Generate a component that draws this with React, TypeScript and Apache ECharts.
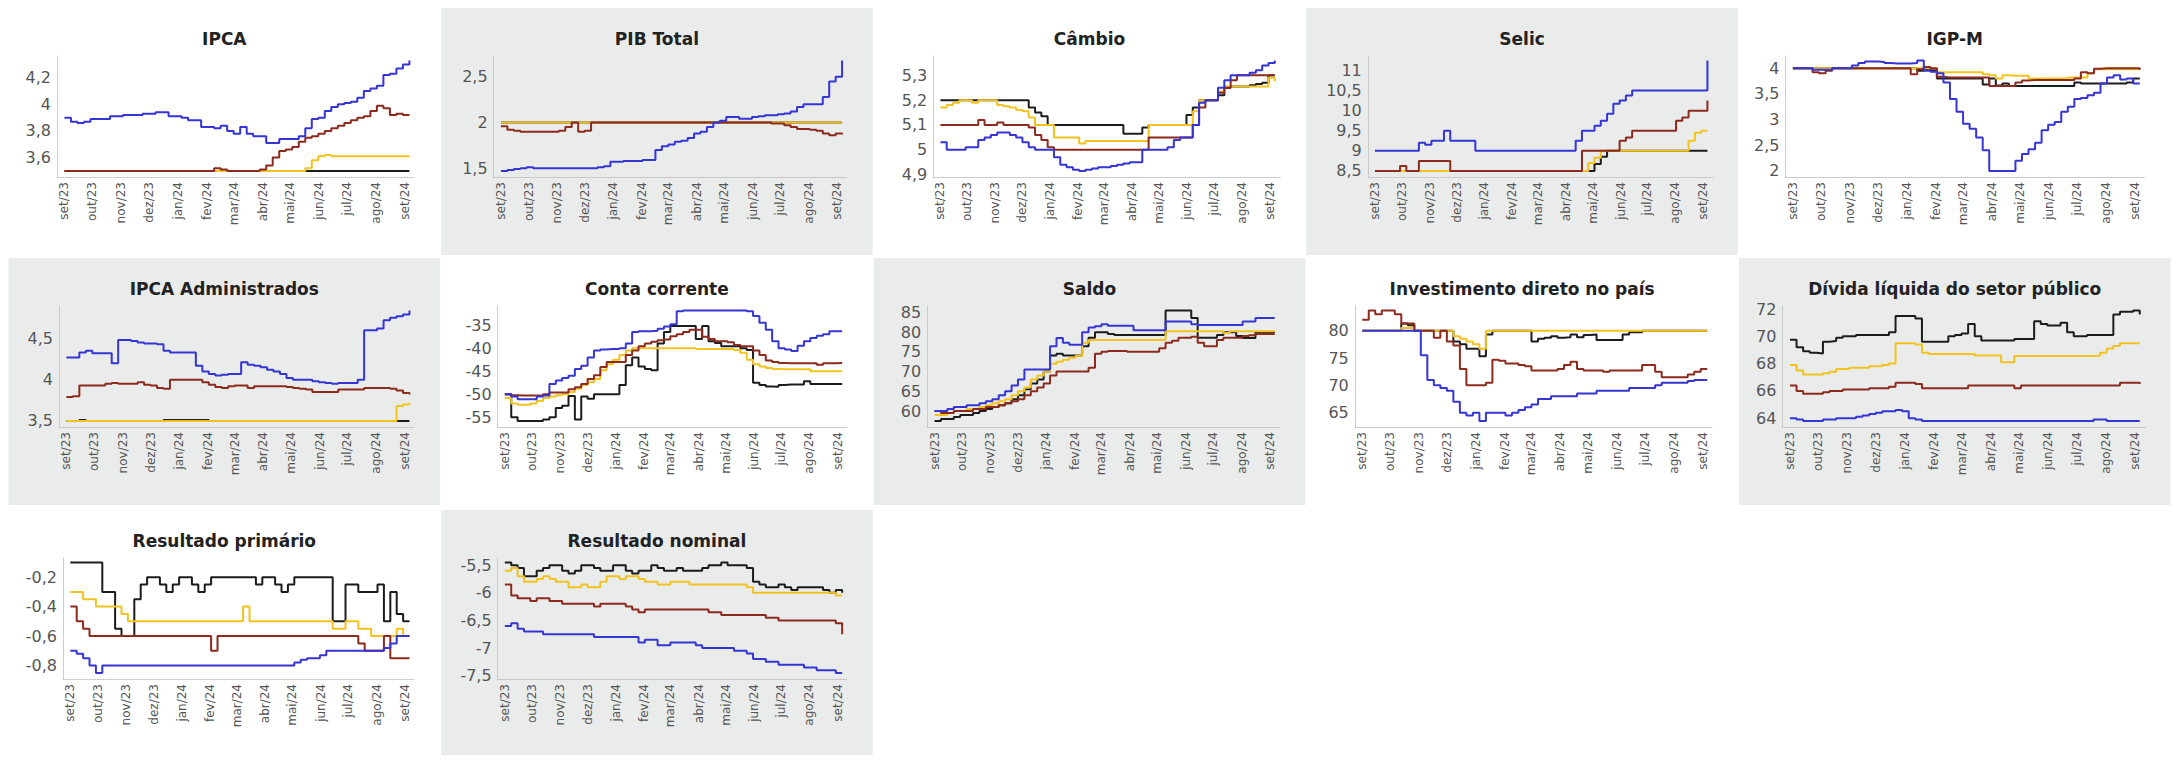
import React, { useEffect, useRef } from "react";
import * as echarts from "echarts";

// ---------- data ----------
const weekDates = [
  "2023-09-01","2023-09-08","2023-09-15","2023-09-22","2023-09-29","2023-10-06","2023-10-13","2023-10-20","2023-10-27","2023-11-03",
  "2023-11-10","2023-11-17","2023-11-24","2023-12-01","2023-12-08","2023-12-15","2023-12-22","2023-12-29","2024-01-05","2024-01-12",
  "2024-01-19","2024-01-26","2024-02-02","2024-02-09","2024-02-16","2024-02-23","2024-03-01","2024-03-08","2024-03-15","2024-03-22",
  "2024-03-29","2024-04-05","2024-04-12","2024-04-19","2024-04-26","2024-05-03","2024-05-10","2024-05-17","2024-05-24","2024-05-31",
  "2024-06-07","2024-06-14","2024-06-21","2024-06-28","2024-07-05","2024-07-12","2024-07-19","2024-07-26","2024-08-02","2024-08-09",
  "2024-08-16","2024-08-23","2024-08-30","2024-09-06",
];
const monthTickDates = [
  "2023-09-01","2023-10-01","2023-11-01","2023-12-01","2024-01-01","2024-02-01","2024-03-01",
  "2024-04-01","2024-05-01","2024-06-01","2024-07-01","2024-08-01","2024-09-01",
];
const monthTickLabels = ["set/23","out/23","nov/23","dez/23","jan/24","fev/24","mar/24","abr/24","mai/24","jun/24","jul/24","ago/24","set/24"];
const axisStartDate = "2023-08-24";
const axisEndDate = "2024-09-12";

const seriesNames = ["2024", "2025", "2026", "2027"];
const seriesColors = ["#3535d4", "#8c2a1e", "#f2c21e", "#1c1c1c"];

const panelTitles = [
  "IPCA","PIB Total","Câmbio","Selic","IGP-M",
  "IPCA Administrados","Conta corrente","Saldo","Investimento direto no país","Dívida líquida do setor público",
  "Resultado primário","Resultado nominal",
];

const ipcaTicks = [3.6, 3.8, 4, 4.2];
const pibTicks = [1.5, 2, 2.5];
const cambioTicks = [4.9, 5, 5.1, 5.2, 5.3];
const selicTicks = [8.5, 9, 9.5, 10, 10.5, 11];
const igpmTicks = [2, 2.5, 3, 3.5, 4];
const admTicks = [3.5, 4, 4.5];
const contaTicks = [-55, -50, -45, -40, -35];
const saldoTicks = [60, 65, 70, 75, 80, 85];
const idpTicks = [65, 70, 75, 80];
const dlspTicks = [64, 66, 68, 70, 72];
const primTicks = [-0.8, -0.6, -0.4, -0.2];
const nomTicks = [-7.5, -7, -6.5, -6, -5.5];

// IPCA
const ipca24 = [3.90,3.87,3.86,3.87,3.89,3.89,3.89,3.91,3.91,3.92, 3.92,3.92,3.93,3.93,3.94,3.94,3.91,3.91,3.90,3.88, 3.88,3.83,3.83,3.82,3.84,3.80,3.78,3.83,3.78,3.76, 3.76,3.71,3.71,3.74,3.74,3.74,3.76,3.82,3.89,3.90, 3.95,3.98,4.00,4.01,4.02,4.05,4.10,4.12,4.14,4.22, 4.23,4.27,4.30,4.33];
const ipca25 = [3.5,3.5,3.5,3.5,3.5,3.5,3.5,3.5,3.5,3.5, 3.5,3.5,3.5,3.5,3.5,3.5,3.5,3.5,3.5,3.5, 3.5,3.5,3.5,3.52,3.51,3.5,3.5,3.5,3.5,3.5, 3.51,3.54,3.6,3.65,3.66,3.68,3.72,3.75,3.76,3.78, 3.8,3.82,3.84,3.86,3.88,3.9,3.91,3.95,3.99,3.97, 3.92,3.93,3.92,3.92];
const ipca26 = [3.5,3.5,3.5,3.5,3.5,3.5,3.5,3.5,3.5,3.5, 3.5,3.5,3.5,3.5,3.5,3.5,3.5,3.5,3.5,3.5, 3.5,3.5,3.5,3.5,3.5,3.5,3.5,3.5,3.5,3.5, 3.5,3.5,3.5,3.5,3.5,3.5,3.5,3.52,3.58,3.61, 3.62,3.61,3.61,3.61,3.61,3.61,3.61,3.61,3.61,3.61, 3.61,3.61,3.61,3.61];
const ipca27 = [3.5,3.5,3.5,3.5,3.5,3.5,3.5,3.5,3.5,3.5, 3.5,3.5,3.5,3.5,3.5,3.5,3.5,3.5,3.5,3.5, 3.5,3.5,3.5,3.5,3.5,3.5,3.5,3.5,3.5,3.5, 3.5,3.5,3.5,3.5,3.5,3.5,3.5,3.5,3.5,3.5, 3.5,3.5,3.5,3.5,3.5,3.5,3.5,3.5,3.5,3.5, 3.5,3.5,3.5,3.5];

// PIB Total
const pib24 = [1.47,1.48,1.49,1.5,1.51,1.5,1.5,1.5,1.5,1.5, 1.5,1.5,1.5,1.5,1.5,1.51,1.52,1.57,1.57,1.58, 1.58,1.58,1.59,1.59,1.7,1.74,1.76,1.79,1.8,1.83, 1.88,1.9,1.95,2,2.02,2.06,2.06,2.04,2.04,2.06, 2.07,2.08,2.08,2.09,2.1,2.12,2.17,2.2,2.2,2.2, 2.28,2.45,2.5,2.68];
const pib25 = [1.96,1.92,1.91,1.9,1.9,1.9,1.9,1.9,1.9,1.91, 1.95,2,1.9,1.91,2,2,2,2,2,2, 2,2,2,2,2,2,2,2,2,2, 2,2,2,2,2,2,2,2,2,2, 2,2,1.99,1.99,1.97,1.95,1.93,1.93,1.92,1.91, 1.88,1.86,1.88,1.87];
const pib26 = [2,2,2,2,2,2,2,2,2,2, 2,2,2,2,2,2,2,2,2,2, 2,2,2,2,2,2,2,2,2,2, 2,2,2,2,2,2,2,2,2,2, 2,2,2,2,2,2,2,2,2,2, 2,2,2,2];
const pib27 = [2,2,2,2,2,2,2,2,2,2, 2,2,2,2,2,2,2,2,2,2, 2,2,2,2,2,2,2,2,2,2, 2,2,2,2,2,2,2,2,2,2, 2,2,2,2,2,2,2,2,2,2, 2,2,2,2];

// Câmbio
const cam24 = [5.03,5,5,5,5.01,5.01,5.04,5.05,5.06,5.07, 5.07,5.06,5.05,5.03,5.01,5,5,5,4.97,4.94, 4.93,4.92,4.915,4.92,4.925,4.93,4.93,4.935,4.94,4.945, 4.95,4.95,5,5,5,5,5.01,5.04,5.05,5.05, 5.1,5.19,5.2,5.2,5.25,5.28,5.3,5.3,5.3,5.31, 5.32,5.34,5.35,5.36];
const cam25 = [5.1,5.1,5.1,5.1,5.1,5.1,5.12,5.1,5.1,5.11, 5.1,5.1,5.1,5.1,5.09,5.06,5.04,5.01,5,5, 5,5,5,5,5,5,5,5,5,5, 5,5,5,5.05,5.05,5.05,5.05,5.05,5.05,5.05, 5.1,5.17,5.2,5.2,5.23,5.25,5.28,5.3,5.3,5.3, 5.3,5.3,5.3,5.3];
const cam26 = [5.17,5.18,5.19,5.2,5.2,5.19,5.2,5.2,5.2,5.18, 5.175,5.17,5.16,5.155,5.13,5.1,5.1,5.1,5.05,5.05, 5.05,5.05,5.025,5.035,5.035,5.035,5.035,5.035,5.035,5.035, 5.035,5.035,5.035,5.1,5.1,5.1,5.1,5.1,5.1,5.1, 5.155,5.2,5.2,5.2,5.235,5.255,5.255,5.255,5.255,5.255, 5.255,5.255,5.29,5.275];
const cam27 = [5.2,5.2,5.2,5.2,5.2,5.2,5.2,5.2,5.2,5.2, 5.2,5.2,5.2,5.2,5.17,5.15,5.135,5.1,5.1,5.1, 5.1,5.1,5.1,5.1,5.1,5.1,5.1,5.1,5.1,5.065, 5.065,5.065,5.09,5.1,5.1,5.1,5.1,5.1,5.1,5.14, 5.17,5.2,5.2,5.2,5.22,5.25,5.255,5.255,5.255,5.26, 5.265,5.27,5.3,5.3];

// Selic
const sel24 = [9,9,9,9,9,9,9,9.2,9.15,9.25, 9.25,9.5,9.25,9.25,9.25,9.25,9,9,9,9, 9,9,9,9,9,9,9,9,9,9, 9,9,9.25,9.5,9.5,9.625,9.75,9.92,10.17,10.25, 10.375,10.5,10.5,10.5,10.5,10.5,10.5,10.5,10.5,10.5, 10.5,10.5,10.5,11.25];
const sel25 = [8.5,8.5,8.5,8.5,8.625,8.5,8.5,8.75,8.75,8.75, 8.75,8.75,8.5,8.5,8.5,8.5,8.5,8.5,8.5,8.5, 8.5,8.5,8.5,8.5,8.5,8.5,8.5,8.5,8.5,8.5, 8.5,8.5,8.5,9,9,9,9,9,9,9.25, 9.33,9.5,9.5,9.5,9.5,9.5,9.5,9.5,9.75,9.83, 10,10,10,10.25];
const sel26 = [8.5,8.5,8.5,8.5,8.5,8.5,8.5,8.5,8.5,8.5, 8.5,8.5,8.5,8.5,8.5,8.5,8.5,8.5,8.5,8.5, 8.5,8.5,8.5,8.5,8.5,8.5,8.5,8.5,8.5,8.5, 8.5,8.5,8.5,8.5,8.7,8.83,9,9,9,9, 9,9,9,9,9,9,9,9,9,9, 9.25,9.45,9.5,9.5];
const sel27 = [8.5,8.5,8.5,8.5,8.5,8.5,8.5,8.5,8.5,8.5, 8.5,8.5,8.5,8.5,8.5,8.5,8.5,8.5,8.5,8.5, 8.5,8.5,8.5,8.5,8.5,8.5,8.5,8.5,8.5,8.5, 8.5,8.5,8.5,8.5,8.5,8.67,8.85,9,9,9, 9,9,9,9,9,9,9,9,9,9, 9,9,9,9];

// IGP-M
const igp24 = [4,4,4,3.97,3.97,3.97,4,4,4,4.05, 4.1,4.13,4.13,4.12,4.1,4.09,4.09,4.09,4.1,4.15, 3.95,3.93,3.9,3.72,3.4,3.15,2.92,2.82,2.65,2.4, 2,2,2,2,2.2,2.33,2.42,2.55,2.79,2.9, 2.95,3.15,3.25,3.4,3.42,3.47,3.52,3.7,3.82,3.86, 3.78,3.8,3.7,3.7];
const igp25 = [4,4,4,3.92,3.9,3.95,4,4,4,4, 4,4,4,4,4,4,4,4,3.88,3.98, 4.02,4,3.83,3.82,3.82,3.82,3.82,3.82,3.82,3.82, 3.65,3.65,3.65,3.65,3.72,3.76,3.77,3.77,3.77,3.77, 3.77,3.77,3.77,3.8,3.92,3.9,3.99,4,4,4, 4,4,4,3.97];
const igp26 = [4,4,4,4,4,4,4,4,4,4, 4,4,4,4,4,4,4,4,4,4, 4,4,3.92,3.92,3.92,3.92,3.92,3.92,3.92,3.88, 3.86,3.8,3.86,3.85,3.85,3.85,3.8,3.8,3.8,3.8, 3.8,3.8,3.82,3.82,3.82,3.9,3.98,3.98,3.98,3.98, 3.98,3.98,3.98,3.98];
const igp27 = [4,4,4,4,4,4,4,4,4,4, 4,4,4,4,4,4,4,4,4,3.95, 3.98,3.96,3.8,3.8,3.8,3.8,3.8,3.8,3.8,3.68, 3.8,3.66,3.7,3.65,3.65,3.65,3.65,3.65,3.65,3.65, 3.65,3.65,3.65,3.72,3.7,3.7,3.7,3.7,3.7,3.7, 3.7,3.72,3.8,3.8];

// IPCA Administrados
const adm24 = [4.27,4.27,4.33,4.35,4.32,4.32,4.32,4.2,4.48,4.48, 4.47,4.45,4.44,4.44,4.43,4.35,4.33,4.33,4.33,4.33, 4.17,4.1,4.07,4.05,4.06,4.07,4.07,4.21,4.18,4.17, 4.15,4.12,4.1,4.07,4.02,4,4,4,3.98,3.97, 3.96,3.95,3.96,3.96,3.96,4,4.6,4.6,4.62,4.72, 4.75,4.77,4.79,4.84];
const adm25 = [3.79,3.8,3.93,3.93,3.93,3.93,3.95,3.96,3.95,3.95, 3.95,3.97,3.94,3.93,3.9,3.89,4,4,4,4, 4,3.97,3.94,3.91,3.9,3.92,3.93,3.93,3.9,3.92, 3.92,3.92,3.92,3.92,3.91,3.9,3.89,3.88,3.85,3.85, 3.85,3.85,3.88,3.88,3.88,3.88,3.9,3.9,3.9,3.9, 3.89,3.87,3.84,3.82];
const adm26 = [3.5,3.5,3.5,3.5,3.5,3.5,3.5,3.5,3.5,3.5, 3.5,3.5,3.5,3.5,3.5,3.5,3.5,3.5,3.5,3.5, 3.5,3.5,3.5,3.5,3.5,3.5,3.5,3.5,3.5,3.5, 3.5,3.5,3.5,3.5,3.5,3.5,3.5,3.5,3.5,3.5, 3.5,3.5,3.5,3.5,3.5,3.5,3.5,3.5,3.5,3.5, 3.5,3.68,3.7,3.72];
const adm27 = [3.5,3.5,3.51,3.5,3.5,3.5,3.5,3.5,3.5,3.5, 3.5,3.5,3.5,3.5,3.5,3.51,3.51,3.51,3.51,3.51, 3.51,3.51,3.5,3.5,3.5,3.5,3.5,3.5,3.5,3.5, 3.5,3.5,3.5,3.5,3.5,3.5,3.5,3.5,3.5,3.5, 3.5,3.5,3.5,3.5,3.5,3.5,3.5,3.5,3.5,3.5, 3.5,3.5,3.5,3.5];

// Conta corrente
const cc24 = [-50,-50.5,-51.1,-51.1,-51.1,-50.5,-50.3,-47.8,-47,-46.5, -46,-44.5,-43.8,-42,-40.5,-40.3,-40.2,-40.2,-40,-39, -36.5,-36.3,-36.3,-36.2,-35.8,-35.3,-34.8,-32,-31.8,-31.8, -31.8,-31.8,-31.8,-31.8,-31.8,-31.8,-31.8,-31.8,-32,-33, -34.5,-36,-38.5,-40,-40.3,-40.6,-39.5,-38.5,-37.8,-37.3, -37,-36.3,-36.3,-36.3];
const cc25 = [-50,-50.2,-50.3,-50.3,-50.3,-50.3,-50,-49.6,-49.6,-49.6, -48.9,-48.5,-47.8,-46.7,-45.9,-44.1,-43,-43,-43,-41.5, -40.5,-39.6,-39,-38.6,-38.3,-38.1,-37.4,-37,-36.5,-36, -36,-37.5,-38,-38.5,-38.5,-38.7,-39.3,-39.6,-39.6,-40.5, -41.5,-42.7,-43,-43.2,-43.3,-43.3,-43.3,-43.3,-43.3,-43.6, -43.3,-43.3,-43.2,-43.3];
const cc26 = [-50.8,-52,-52.3,-52.3,-52,-51.5,-50.8,-50.5,-50.2,-50, -49.5,-48.8,-48,-47.4,-46.7,-44.8,-43.5,-42.5,-41.5,-40.5, -40,-40,-40,-40,-40,-40,-40,-40,-40,-40, -40.2,-40.2,-40.2,-40.2,-40.2,-40.2,-40.4,-41,-42.5,-43.5, -44,-44.3,-44.5,-44.6,-44.6,-44.6,-44.6,-44.6,-45,-45, -45,-45,-45,-45];
const cc27 = [-50,-55,-55.8,-55.8,-55.8,-55.8,-55.5,-55,-53,-52.5, -50.4,-55.5,-50.5,-51,-50,-50,-50,-50,-48,-43.7, -42,-44,-44.5,-44.8,-39,-36.5,-35.2,-35.2,-35.2,-35.2, -38,-35.2,-38.5,-38.9,-39.6,-39.6,-39.6,-40,-40.4,-47.5, -48,-48.3,-48.4,-48,-47.9,-47.9,-47.9,-47.2,-47.8,-47.8, -47.8,-47.8,-47.8,-47.8];

// Saldo
const sal24 = [60,60,60.5,61,61,61.5,61.5,62,62.5,63, 64,65,66.5,68,70.5,70.5,70.5,70.5,76.4,78.5, 77.3,76.8,76.8,80,81.2,81.5,82,81.6,81.6,81.6, 81.6,80.5,80.5,80.5,80.5,80.5,82.7,82.7,82.7,82.7, 82,81.8,81.8,81.8,81.8,81.8,81.8,81.8,82.7,82.7, 83.6,83.6,83.6,83.6];
const sal25 = [60,59.5,59.5,60,60,60,60.5,60.5,61,61, 61.5,62,62.5,63,64,65,66,67,69,70, 70,70,70,70,71,74.5,75,75.2,75.2,75.2, 75,75,75,75,75,75.9,77.3,77.8,78.6,78.6, 78.8,77.3,76.4,76.4,78,78.6,78.6,78.6,79,79.2, 79.5,79.5,79.5,79.5];
const sal26 = [59,59,59.5,60,60,60.5,60.5,61,61.5,62, 62.5,63,64,65,66,68,69,70,72,72.5, 73,73.5,74,77.3,78,78,78,78,78,78, 78,78,78,78,78,78,80.2,80.2,80.2,80.2, 80.2,80.2,80.2,80.2,80.2,79.8,80.2,80.2,80.2,80.2, 80.2,80.2,80.2,80.2];
const sal27 = [57.5,58,58,58.5,59,59,59.5,60,60.5,61, 61.5,62,63,64,65.5,67,68,70,74.1,74.5, 74.1,74.1,74.1,76.4,78.6,80,80,79.5,79.3,79.3, 79.3,79.3,79.3,79.3,79.3,79.3,85.5,85.5,85.5,85.5, 83.6,78.6,78.6,78.6,79.3,80,80,79,78.5,78.5, 80,80,80,80];

// Investimento direto no país
const idp24 = [80,80,80,80,80,80,80,80,80,75.5, 71,70,69.5,69,67,65,64.5,65,63.5,65, 65,65,64.5,65,65.5,66,66.5,67.5,67.5,68, 68,68,68,68.5,68.5,68.5,69,69,69,69, 69,69.5,69.5,69.5,69.5,70,70.5,70.5,70.5,70.5, 70.8,71,71,71];
const idp25 = [82,83.7,83,83.7,83.7,83,81.3,81.3,80,80, 80,78.7,80,78,77.3,73,70,70,70,70.5, 74.7,74.5,74,74,73.7,73.5,72.7,72.7,72.7,72.7, 73,73.7,74.3,73,72.7,72.7,72.7,72.5,72.7,72.7, 72.7,72.7,72.7,73.7,73.7,72.5,71.5,71.5,71.5,71.5, 72,72.5,73,73];
const idp26 = [80,80,80,80,80,80,80.5,80.5,80,80, 80,80,80,80,79,78.5,78,77.5,76.7,80, 80,80,80,80,80,80,80,80,80,80, 80,80,80,80,80,80,80,80,80,80, 80,80,80,80,80,80,80,80,80,80, 80,80,80,80];
const idp27 = [80,80,80,80,80,80,81.3,81,80,80, 80,80,80,80,78,77.5,76.7,76.7,75.3,79.3, 80,80,80,80,80,80,78,78.5,78.7,79, 78.7,78.8,79.3,78.8,79.2,79.3,78.3,78.3,78.3,78.3, 79.3,79.7,79.7,80,80,80,80,80,80,80, 80,80,80,80];

// Dívida líquida do setor público
const dlsp24 = [64,63.9,63.8,63.8,63.8,63.9,63.9,64,64,64, 64.1,64.2,64.3,64.4,64.5,64.5,64.6,64.5,64,63.9, 63.8,63.8,63.8,63.8,63.8,63.8,63.8,63.8,63.8,63.8, 63.8,63.8,63.8,63.8,63.8,63.8,63.8,63.8,63.8,63.8, 63.8,63.8,63.8,63.8,63.8,63.8,63.9,63.9,63.8,63.8, 63.8,63.8,63.8,63.8];
const dlsp25 = [66.4,66,65.8,65.8,65.8,65.9,66,66,66.1,66.1, 66.1,66.1,66.2,66.2,66.2,66.3,66.6,66.6,66.6,66.5, 66.2,66.2,66.2,66.2,66.2,66.2,66.2,66.4,66.4,66.4, 66.4,66.4,66.4,66.4,66.2,66.4,66.4,66.4,66.4,66.4, 66.4,66.4,66.4,66.4,66.4,66.4,66.4,66.4,66.4,66.4, 66.6,66.6,66.6,66.5];
const dlsp26 = [67.9,67.5,67.2,67.2,67.2,67.3,67.4,67.6,67.6,67.7, 67.7,67.7,67.8,67.8,67.9,68,69.5,69.5,69.5,69.4, 68.8,68.7,68.7,68.7,68.7,68.7,68.7,68.7,68.6,68.6, 68.6,68.6,68.1,68.1,68.55,68.55,68.55,68.55,68.55,68.55, 68.55,68.55,68.55,68.55,68.55,68.55,68.6,68.8,69.1,69.3, 69.5,69.5,69.5,69.5];
const dlsp27 = [69.75,69.2,68.9,68.8,68.75,69.6,69.65,69.9,70,70, 70.1,70.1,70.1,70.1,70.1,70.3,71.5,71.5,71.5,71.3, 69.6,69.6,69.6,69.6,70,70.1,70.2,70.9,70,69.7, 69.7,69.7,69.7,69.7,69.8,69.8,69.8,71.1,70.9,70.8, 70.8,71,70.3,70,70,70.1,70.1,70.1,70.1,71.6, 71.8,71.8,71.9,71.6];

// Resultado primário
const rp24 = [-0.7,-0.72,-0.75,-0.8,-0.85,-0.8,-0.8,-0.8,-0.8,-0.8, -0.8,-0.8,-0.8,-0.8,-0.8,-0.8,-0.8,-0.8,-0.8,-0.8, -0.8,-0.8,-0.8,-0.8,-0.8,-0.8,-0.8,-0.8,-0.8,-0.8, -0.8,-0.8,-0.8,-0.8,-0.8,-0.78,-0.76,-0.75,-0.75,-0.73, -0.7,-0.7,-0.7,-0.7,-0.7,-0.7,-0.7,-0.7,-0.7,-0.68, -0.65,-0.6,-0.6,-0.6];
const rp25 = [-0.4,-0.5,-0.55,-0.6,-0.6,-0.6,-0.6,-0.6,-0.6,-0.6, -0.6,-0.6,-0.6,-0.6,-0.6,-0.6,-0.6,-0.6,-0.6,-0.6, -0.6,-0.6,-0.7,-0.6,-0.6,-0.6,-0.6,-0.6,-0.6,-0.6, -0.6,-0.6,-0.6,-0.6,-0.6,-0.6,-0.6,-0.6,-0.6,-0.6, -0.6,-0.6,-0.6,-0.6,-0.6,-0.65,-0.7,-0.7,-0.7,-0.6, -0.75,-0.75,-0.75,-0.75];
const rp26 = [-0.3,-0.3,-0.35,-0.35,-0.4,-0.4,-0.4,-0.4,-0.45,-0.5, -0.5,-0.5,-0.5,-0.5,-0.5,-0.5,-0.5,-0.5,-0.5,-0.5, -0.5,-0.5,-0.5,-0.5,-0.5,-0.5,-0.5,-0.4,-0.5,-0.5, -0.5,-0.5,-0.5,-0.5,-0.5,-0.5,-0.5,-0.5,-0.5,-0.5, -0.5,-0.55,-0.55,-0.5,-0.5,-0.55,-0.55,-0.6,-0.6,-0.6, -0.6,-0.55,-0.6,-0.6];
const rp27 = [-0.1,-0.1,-0.1,-0.1,-0.1,-0.3,-0.3,-0.55,-0.6,-0.6, -0.35,-0.25,-0.2,-0.2,-0.25,-0.3,-0.25,-0.2,-0.2,-0.25, -0.3,-0.25,-0.2,-0.2,-0.2,-0.2,-0.2,-0.2,-0.2,-0.25, -0.2,-0.2,-0.25,-0.3,-0.25,-0.2,-0.2,-0.2,-0.2,-0.2, -0.2,-0.5,-0.5,-0.25,-0.25,-0.3,-0.3,-0.3,-0.25,-0.5, -0.3,-0.45,-0.5,-0.5];

// Resultado nominal
const rn24 = [-6.6,-6.55,-6.65,-6.7,-6.7,-6.7,-6.75,-6.75,-6.75,-6.75, -6.75,-6.75,-6.75,-6.75,-6.8,-6.8,-6.8,-6.8,-6.8,-6.8, -6.8,-6.9,-6.85,-6.85,-6.95,-6.95,-6.9,-6.9,-6.9,-6.9, -6.95,-7,-7,-7,-7,-7,-7.05,-7.05,-7.1,-7.2, -7.2,-7.25,-7.25,-7.3,-7.3,-7.3,-7.3,-7.35,-7.35,-7.4, -7.4,-7.4,-7.45,-7.45];
const rn25 = [-5.85,-6.05,-6.1,-6.1,-6.15,-6.1,-6.1,-6.15,-6.15,-6.2, -6.2,-6.2,-6.2,-6.2,-6.25,-6.2,-6.2,-6.2,-6.2,-6.25, -6.3,-6.35,-6.3,-6.3,-6.3,-6.3,-6.3,-6.3,-6.3,-6.3, -6.3,-6.3,-6.35,-6.35,-6.4,-6.4,-6.4,-6.4,-6.4,-6.4, -6.4,-6.45,-6.45,-6.5,-6.5,-6.5,-6.5,-6.5,-6.5,-6.5, -6.5,-6.5,-6.55,-6.75];
const rn26 = [-5.6,-5.55,-5.7,-5.8,-5.8,-5.75,-5.7,-5.75,-5.8,-5.8, -5.9,-5.9,-5.85,-5.9,-5.9,-5.8,-5.7,-5.7,-5.75,-5.7, -5.7,-5.75,-5.8,-5.8,-5.85,-5.85,-5.8,-5.8,-5.8,-5.85, -5.85,-5.85,-5.85,-5.85,-5.85,-5.85,-5.85,-5.85,-5.9,-6, -6,-6,-6,-6,-6,-6,-6,-6,-6,-6, -6,-6,-6.05,-6.05];
const rn27 = [-5.45,-5.5,-5.55,-5.7,-5.7,-5.6,-5.55,-5.5,-5.5,-5.6, -5.65,-5.6,-5.5,-5.5,-5.55,-5.6,-5.6,-5.5,-5.5,-5.6, -5.65,-5.6,-5.6,-5.5,-5.55,-5.6,-5.6,-5.55,-5.6,-5.6, -5.6,-5.55,-5.5,-5.5,-5.45,-5.5,-5.5,-5.5,-5.55,-5.8, -5.85,-5.9,-5.9,-5.85,-5.9,-5.95,-5.9,-5.9,-5.9,-5.9, -5.95,-6,-5.95,-6];

const panelTicks = [ipcaTicks, pibTicks, cambioTicks, selicTicks, igpmTicks, admTicks, contaTicks, saldoTicks, idpTicks, dlspTicks, primTicks, nomTicks];
const panelValues = [
  [ipca24, ipca25, ipca26, ipca27],
  [pib24, pib25, pib26, pib27],
  [cam24, cam25, cam26, cam27],
  [sel24, sel25, sel26, sel27],
  [igp24, igp25, igp26, igp27],
  [adm24, adm25, adm26, adm27],
  [cc24, cc25, cc26, cc27],
  [sal24, sal25, sal26, sal27],
  [idp24, idp25, idp26, idp27],
  [dlsp24, dlsp25, dlsp26, dlsp27],
  [rp24, rp25, rp26, rp27],
  [rn24, rn25, rn26, rn27],
];

// ---------- layout ----------
const CHART_W = 2163;
const CHART_H = 747;
const COL_W = CHART_W / 5;
const ROW_TOPS = [0, 250, 502];
const PANEL_H = [247, 247, 245];
const PLOT_LEFT = [49, 53, 60, 62, 47, 51, 57, 54, 49, 44, 55, 57];
const PLOT_RIGHT = 407;
const PLOT_TOP = 48;
const PLOT_H = 121;
const FONT = '"DejaVu Sans", Verdana, sans-serif';

const toTime = (s: string) => {
  const [y, m, d] = s.split("-").map(Number);
  return Date.UTC(y, m - 1, d);
};

function buildOption() {
  const weekTimes = weekDates.map(toTime);
  const tickTimes = monthTickDates.map(toTime);
  const xMin = toTime(axisStartDate);
  const xMax = toTime(axisEndDate);
  const fmtX = (v: number) => {
    let best = 0;
    let bd = Infinity;
    tickTimes.forEach((t, k) => {
      const d = Math.abs(t - v);
      if (d < bd) { bd = d; best = k; }
    });
    return monthTickLabels[best];
  };
  const fmtY = (v: number) => String(Math.round(v * 1000) / 1000).replace(".", ",");

  const rects: any[] = [];
  const titles: any[] = [];
  const grids: any[] = [];
  const xAxes: any[] = [];
  const yAxes: any[] = [];
  const series: any[] = [];

  panelTitles.forEach((title, i) => {
    const col = i % 5;
    const row = Math.floor(i / 5);
    const px = col * COL_W;
    const py = ROW_TOPS[row];
    rects.push({
      type: "rect",
      z: -10,
      silent: true,
      shape: { x: px + 0.5, y: py, width: COL_W - 1, height: PANEL_H[row] },
      style: { fill: i % 2 === 1 ? "#eaecec" : "#ffffff" },
    });
    titles.push({
      text: title,
      left: px + COL_W / 2,
      top: py + 22,
      textAlign: "center",
      padding: 0,
      textStyle: { fontFamily: FONT, fontSize: 17, fontWeight: "bold", color: "#222" },
    });
    grids.push({
      left: px + PLOT_LEFT[i],
      top: py + PLOT_TOP,
      width: PLOT_RIGHT - PLOT_LEFT[i],
      height: PLOT_H,
    });
    const axisLineStyle = { color: "#c4c4c4", type: "dotted", width: 1 };
    xAxes.push({
      type: "value",
      gridIndex: i,
      min: xMin,
      max: xMax,
      axisLine: { show: true, onZero: false, lineStyle: axisLineStyle },
      axisTick: { show: false },
      splitLine: { show: false },
      axisLabel: {
        customValues: tickTimes,
        formatter: fmtX,
        rotate: 90,
        margin: 5,
        fontFamily: FONT,
        fontSize: 12,
        color: "#555",
        hideOverlap: false,
      },
    });
    const vals = panelValues[i];
    const all = ([] as number[]).concat(...vals);
    const dMin = Math.min(...all);
    const dMax = Math.max(...all);
    const span = dMax - dMin;
    yAxes.push({
      type: "value",
      gridIndex: i,
      min: dMin - span * 0.055,
      max: dMax + span * 0.04,
      axisLine: { show: true, onZero: false, lineStyle: axisLineStyle },
      axisTick: { show: false },
      splitLine: { show: false },
      axisLabel: {
        customValues: panelTicks[i],
        formatter: fmtY,
        margin: 6,
        fontFamily: FONT,
        fontSize: 16,
        color: "#555",
      },
    });
    [3, 2, 1, 0].forEach((s) => {
      series.push({
        type: "line",
        name: seriesNames[s],
        xAxisIndex: i,
        yAxisIndex: i,
        step: "end",
        symbol: "none",
        showSymbol: false,
        lineStyle: { width: 2, color: seriesColors[s] },
        itemStyle: { color: seriesColors[s] },
        data: weekTimes.map((t, k) => [t, vals[s][k]]),
      });
    });
  });

  return {
    animation: false,
    backgroundColor: "#ffffff",
    graphic: { elements: rects },
    title: titles,
    grid: grids,
    xAxis: xAxes,
    yAxis: yAxes,
    series,
  };
}

export default function App() {
  const ref = useRef<HTMLDivElement>(null);
  useEffect(() => {
    if (!ref.current) return;
    const chart = echarts.init(ref.current, undefined, { renderer: "svg" });
    chart.setOption(buildOption() as any);
    return () => chart.dispose();
  }, []);
  return <div ref={ref} style={{ width: CHART_W, height: CHART_H }} />;
}
